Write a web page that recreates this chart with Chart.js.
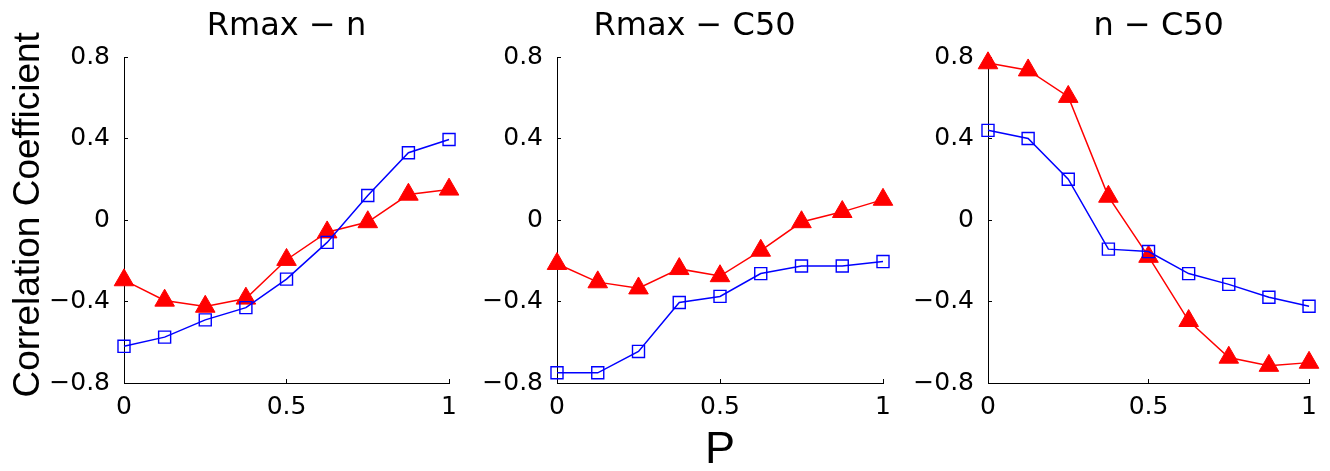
<!DOCTYPE html>
<html>
<head>
<meta charset="utf-8">
<script src="https://cdn.jsdelivr.net/npm/chart.js@4/dist/chart.umd.min.js"></script>
<style>
  html, body { margin: 0; padding: 0; background: #fff; }
  #fig { position: relative; width: 1330px; height: 471px; overflow: hidden; background: #fff; }
  #fig canvas { position: absolute; top: 0; }
</style>
</head>
<body>
<div id="fig">
  <canvas id="c0" width="470" height="471" style="left:0px"></canvas>
  <canvas id="c1" width="435" height="471" style="left:470px"></canvas>
  <canvas id="c2" width="425" height="471" style="left:905px"></canvas>
</div>
<script>
// Mixing proportion P on the horizontal axis
const P = [0, 0.125, 0.25, 0.375, 0.5, 0.625, 0.75, 0.875, 1];

// Panel titles (non-breaking spaces nudge the centred title sideways)
const panelTitles = [
  'Rmax \u2212 n',
  'Rmax \u2212 C50\u00a0\u00a0\u00a0\u00a0\u00a0',
  '\u00a0\u00a0n \u2212 C50'
];

// Open blue squares
const rmaxN_squares   = [-0.62, -0.575, -0.49, -0.43, -0.29, -0.11, 0.12, 0.33, 0.395];
const rmaxC50_squares = [-0.75, -0.75, -0.645, -0.405, -0.375, -0.263, -0.226, -0.226, -0.204];
const nC50_squares    = [0.44, 0.40, 0.20, -0.143, -0.155, -0.263, -0.316, -0.379, -0.423];

// Filled red triangles
const rmaxN_triangles   = [-0.295, -0.395, -0.425, -0.385, -0.195, -0.06, -0.01, 0.125, 0.15];
const rmaxC50_triangles = [-0.215, -0.305, -0.335, -0.24, -0.275, -0.15, -0.01, 0.04, 0.10];
const nC50_triangles    = [0.77, 0.735, 0.605, 0.115, -0.18, -0.495, -0.675, -0.715, -0.70];

// Tick positions and labels
const xTicks = [0, 0.5, 1];
const xTickLabels = ['0', '0.5', '1'];
const yTicks = [-0.8, -0.4, 0, 0.4, 0.8];
const yTickLabels = ['\u22120.8', '\u22120.4', '0', '0.4', '0.8'];

// Axis titles
const yTitle = 'Correlation Coefficient';
const xTitle = 'P';

const squareSeries = [rmaxN_squares, rmaxC50_squares, nC50_squares];
const triangleSeries = [rmaxN_triangles, rmaxC50_triangles, nC50_triangles];

// Per-panel frame geometry: width reserved for the y axis, right padding
const frames = [
  { yw: 124, pr: 19 },
  { yw: 87,  pr: 22 },
  { yw: 83,  pr: 16 }
];

const tickFont = { family: 'DejaVu Sans', size: 25, lineHeight: 1.2 };

function points(values) {
  return P.map((p, k) => ({ x: p, y: values[k] }));
}

function makePanel(i) {
  const f = frames[i];
  return new Chart(document.getElementById('c' + i), {
    type: 'line',
    data: {
      datasets: [
        {
          label: 'squares',
          data: points(squareSeries[i]),
          borderColor: '#0000ff',
          backgroundColor: 'rgba(0,0,0,0)',
          borderWidth: 1.5,
          pointStyle: 'rect',
          pointRadius: 8.5,
          pointBorderWidth: 1.4,
          pointBorderColor: '#0000ff',
          pointBackgroundColor: 'rgba(0,0,0,0)',
          tension: 0,
          clip: false
        },
        {
          label: 'triangles',
          data: points(triangleSeries[i]),
          borderColor: '#ff0000',
          backgroundColor: '#ff0000',
          borderWidth: 1.5,
          pointStyle: 'triangle',
          pointRadius: 11.3,
          pointBorderWidth: 1,
          pointBorderColor: '#ff0000',
          pointBackgroundColor: '#ff0000',
          tension: 0,
          clip: false
        }
      ]
    },
    options: {
      responsive: false,
      animation: false,
      devicePixelRatio: 1,
      events: [],
      layout: { padding: { left: 0, right: f.pr, top: 0, bottom: 0 } },
      plugins: {
        legend: { display: false },
        tooltip: { enabled: false },
        title: { display: false }
      },
      scales: {
        x: {
          type: 'linear',
          position: 'bottom',
          min: 0,
          max: 1,
          afterBuildTicks: s => { s.ticks = xTicks.map(v => ({ value: v })); },
          afterFit: s => { s.height = 88; },
          border: { display: true, color: '#000', width: 1 },
          grid: { display: true, drawOnChartArea: false, drawTicks: true, tickLength: -4, color: '#000', lineWidth: 1 },
          ticks: {
            padding: 13,
            color: '#000',
            font: tickFont,
            maxRotation: 0,
            autoSkip: false,
            callback: (v, idx) => xTickLabels[idx]
          },
          title: i === 1 ? {
            display: true,
            text: xTitle,
            color: '#000',
            font: { family: 'Liberation Sans', size: 45, lineHeight: 0.8 },
            padding: { top: 0, bottom: 2 }
          } : { display: false }
        },
        xTop: {
          type: 'linear',
          position: 'top',
          min: 0,
          max: 1,
          afterFit: s => { s.height = 57; },
          border: { display: false },
          grid: { display: false, drawTicks: false },
          ticks: { display: false },
          title: {
            display: true,
            text: panelTitles[i],
            color: '#000',
            font: { family: 'DejaVu Sans', size: 32, lineHeight: 1 },
            padding: { top: 10.5, bottom: 0 }
          }
        },
        y: {
          type: 'linear',
          position: 'left',
          min: -0.8,
          max: 0.8,
          afterBuildTicks: s => { s.ticks = yTicks.map(v => ({ value: v })); },
          afterFit: s => { s.width = f.yw; },
          border: { display: true, color: '#000', width: 1 },
          grid: { display: true, drawOnChartArea: false, drawTicks: true, tickLength: -4, color: '#000', lineWidth: 1 },
          ticks: {
            padding: 18,
            color: '#000',
            font: tickFont,
            autoSkip: false,
            callback: (v, idx) => yTickLabels[idx]
          },
          title: i === 0 ? {
            display: true,
            text: '\u00a0' + yTitle,
            color: '#000',
            font: { family: 'Liberation Sans', size: 37, lineHeight: 1 },
            padding: { top: 10.5, bottom: 0 }
          } : { display: false }
        }
      }
    }
  });
}

[0, 1, 2].forEach(makePanel);
</script>
</body>
</html>
